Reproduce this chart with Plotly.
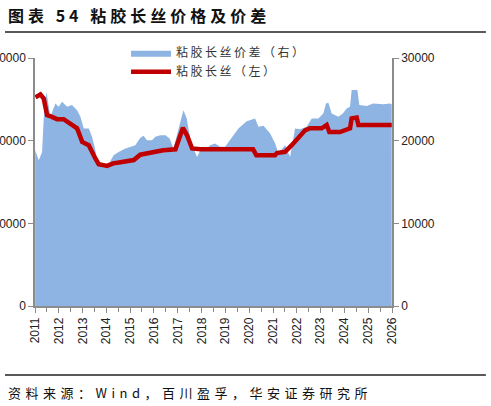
import plotly.graph_objects as go

# ─── 数据──────────────────────────────────────────────────────
spread_dates = [
    "2011-01-03", "2011-02-28", "2011-04-20", "2011-05-15", "2011-06-25", "2011-08-25",
    "2011-11-10", "2012-01-01", "2012-02-20", "2012-05-08", "2012-07-22", "2012-10-08",
    "2012-11-28", "2013-01-18", "2013-04-05", "2013-05-25", "2013-07-15", "2013-08-12",
    "2013-10-01", "2014-01-01", "2014-04-22", "2014-07-08", "2014-10-20", "2015-03-20",
    "2015-06-05", "2015-07-25", "2015-09-15", "2015-12-01", "2016-01-22", "2016-04-08",
    "2016-06-25", "2016-08-28", "2016-10-25", "2017-01-12", "2017-03-28", "2017-05-18",
    "2017-07-12", "2017-10-22", "2017-12-15", "2018-03-25", "2018-05-12", "2018-07-25",
    "2018-10-12", "2018-12-28", "2019-04-12", "2019-07-20", "2019-11-25", "2020-04-01",
    "2020-05-22", "2020-08-08", "2020-11-18", "2021-02-03", "2021-03-26", "2021-07-05",
    "2021-09-20", "2021-12-05", "2022-02-20", "2022-06-02", "2022-08-18", "2022-11-28",
    "2023-02-12", "2023-03-25", "2023-05-01", "2023-06-20", "2023-10-01", "2023-12-08",
    "2024-02-05", "2024-03-28", "2024-04-22", "2024-07-18", "2024-08-18", "2024-12-08",
    "2025-03-20", "2025-08-22", "2025-12-01", "2025-12-28",
]
spread_values = [
    18850, 17630, 18640, 22690, 25910, 22880,
    24510, 24090, 24700, 24090, 24300, 23690,
    22880, 21480, 21480, 20460, 18850, 17630,
    16900, 16670, 18240, 18640, 19050, 19450,
    20340, 20580, 20060, 20060, 20460, 20660,
    20660, 20260, 19050, 21480, 23690, 22690,
    20060, 18030, 18850, 19050, 19450, 19660,
    19250, 19250, 20460, 21480, 22360, 22690,
    21670, 21790, 20870, 19660, 18450, 19450,
    18030, 21480, 21390, 21670, 22690, 22690,
    23290, 24510, 24580, 23290, 22880, 23290,
    23900, 24090, 26120, 26120, 24300, 24180,
    24510, 24420, 24510, 24400,
]

price_dates = [
    "2011-01-08", "2011-03-25", "2011-05-15", "2011-07-05", "2011-09-10", "2011-12-05",
    "2012-03-15", "2012-06-28", "2012-10-08", "2012-12-25", "2013-04-05", "2013-07-15",
    "2013-09-05", "2014-01-10", "2014-04-15", "2014-08-05", "2015-02-25", "2015-06-05",
    "2015-12-20", "2016-05-20", "2016-11-25", "2017-02-10", "2017-03-20", "2017-05-22",
    "2017-08-08", "2017-12-15", "2020-03-01", "2020-04-20", "2021-02-01", "2021-03-01",
    "2021-07-05", "2021-10-15", "2022-01-25", "2022-05-08", "2022-07-22", "2023-01-18",
    "2023-04-05", "2023-05-15", "2023-10-25", "2024-02-05", "2024-03-28", "2024-04-22",
    "2024-07-08", "2024-08-03", "2025-12-28",
]
price_values = [
    50500, 51200, 50200, 46200, 45800, 45200,
    45200, 44200, 43000, 39700, 38900, 35700,
    34300, 33900, 34500, 34800, 35300, 36600,
    37300, 37700, 37900, 41300, 43100, 41300,
    38100, 37900, 37900, 36500, 36500, 37000,
    37300, 38900, 40700, 42500, 43000, 43000,
    43800, 42100, 42100, 42700, 43000, 45400,
    45600, 43800, 43800,
]

SPREAD_NAME = "粘胶长丝价差（右）"
PRICE_NAME = "粘胶长丝（左）"
TITLE = "图表 54 粘胶长丝价格及价差"
SOURCE = "资料来源：Wind，百川盈孚，华安证券研究所"

CJK = "Noto Sans CJK SC"
NUM = "Liberation Sans"
AXIS_GREY = "#8c8c8c"


def spaced(text, px):
    # 原图文字字距较宽
    return f'<span style="letter-spacing:{px}px">{text}</span>'


# ─── 图形 ────────────────────────────────────────────────────────────
fig = go.Figure()
fig.add_trace(go.Scatter(
    x=spread_dates, y=spread_values, yaxis="y",
    name=spaced(SPREAD_NAME, 2.5),
    mode="lines", fill="tozeroy",
    line=dict(width=0, color="#8db4e2"), fillcolor="#8db4e2",
))
fig.add_trace(go.Scatter(
    x=price_dates, y=price_values, yaxis="y2",
    name=spaced(PRICE_NAME, 2.5),
    mode="lines",
    line=dict(width=4.5, color="#c00000"),
))

tick_style = dict(
    showline=True, linecolor=AXIS_GREY, linewidth=1.5,
    ticks="outside", ticklen=5, tickcolor=AXIS_GREY, tickwidth=1,
    showgrid=False, zeroline=False, automargin=False,
    tickfont=dict(family=NUM, size=12, color="#222"),
)

fig.update_layout(
    width=491, height=406,
    margin=dict(l=35, r=99, t=58, b=100),
    paper_bgcolor="white", plot_bgcolor="white",
    showlegend=True,
    legend=dict(
        x=0.255, y=1.08, xanchor="left", yanchor="top",
        bgcolor="rgba(0,0,0,0)", itemwidth=40,
        font=dict(family=CJK, size=12, color="#333"),
        tracegroupgap=0,
    ),
    xaxis=dict(
        type="date", range=["2011-01-01", "2026-01-01"],
        dtick="M12", tick0="2011-01-01", tickformat="%Y", tickangle=-90,
        minor=dict(ticks="outside", dtick="M6", ticklen=4, tickcolor=AXIS_GREY),
        **tick_style,
    ),
    yaxis=dict(side="right", range=[0, 30000], dtick=10000, tickformat="d", **tick_style),
    yaxis2=dict(side="left", overlaying="y", range=[0, 60000], dtick=20000,
                tickformat="d", **tick_style),
    annotations=[
        dict(text=spaced(TITLE, 4),
             xref="paper", yref="paper", x=-0.081, y=1.175,
             xanchor="left", yanchor="middle", showarrow=False,
             font=dict(family=CJK, size=16, color="#111", weight="bold")),
        dict(text=spaced(SOURCE, 4.5),
             xref="paper", yref="paper", x=-0.081, y=-0.347,
             xanchor="left", yanchor="middle", showarrow=False,
             font=dict(family=CJK, size=13, color="#111")),
    ],
    shapes=[
        dict(type="line", xref="paper", yref="paper", x0=-0.084, x1=1.263,
             y0=1.105, y1=1.105, line=dict(color="#222", width=1.5)),
        dict(type="line", xref="paper", yref="paper", x0=-0.084, x1=1.263,
             y0=-0.278, y1=-0.278, line=dict(color="#222", width=1.5)),
    ],
)

# 去掉页面默认的 8px 边距，隐藏工具栏
fig.write_html(
    "out.html",
    config={"displayModeBar": False},
    post_script="document.body.style.margin='0px';",
)
